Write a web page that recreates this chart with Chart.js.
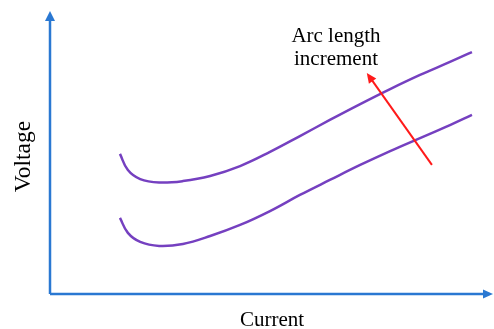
<!DOCTYPE html>
<html>
<head>
<meta charset="utf-8">
<script src="https://cdn.jsdelivr.net/npm/chart.js@4/dist/chart.umd.min.js"></script>
<style>
html,body{margin:0;padding:0;background:#fff;}
#wrap{width:494px;height:329px;position:relative;}
</style>
</head>
<body>
<div id="wrap"><canvas id="c" width="494" height="329"></canvas></div>
<script>
// Current (arbitrary units, 0-100 along the axis)
const currentValues = [15.9, 17.7, 20.5, 24.8, 30.2, 36.4, 43.2, 50.0, 56.8, 63.6, 70.5, 77.3, 84.1, 90.9, 95.9];
// Voltage for the longer arc (upper curve)
const upperVoltage = [49.5, 43.8, 40.6, 39.4, 39.9, 41.7, 45.2, 50.2, 55.8, 61.5, 67.1, 72.4, 77.4, 82.0, 85.5];
// Voltage for the shorter arc (lower curve)
const lowerVoltage = [26.9, 21.6, 18.4, 17.0, 17.7, 20.5, 24.4, 29.3, 35.0, 40.3, 45.6, 50.5, 55.1, 59.7, 63.3];
// Red arrow: tail -> head (current, voltage)
const arrowCurrent = [86.8, 72.0];
const arrowVoltage = [45.6, 78.1];
// Text
const arrowLabel = ['Arc length', 'increment'];
const xTitle = 'Current';
const yTitle = 'Voltage';

const toPoints = (xs, ys) => xs.map((x, i) => ({x: x, y: ys[i]}));

const AXIS_BLUE = '#2a78d2';
const PURPLE = '#7540c0';
const RED = '#ff1a1a';
const FONT = '"Liberation Serif", "Times New Roman", serif';

function arrowHead(ctx, x1, y1, x2, y2, len, half, color) {
  const a = Math.atan2(y2 - y1, x2 - x1);
  ctx.save();
  ctx.fillStyle = color;
  ctx.beginPath();
  ctx.moveTo(x2, y2);
  ctx.lineTo(x2 - len * Math.cos(a) + half * Math.sin(a), y2 - len * Math.sin(a) - half * Math.cos(a));
  ctx.lineTo(x2 - len * Math.cos(a) - half * Math.sin(a), y2 - len * Math.sin(a) + half * Math.cos(a));
  ctx.closePath();
  ctx.fill();
  ctx.restore();
}

const decor = {
  id: 'decor',
  beforeDatasetsDraw(chart) {
    const ctx = chart.ctx;
    const xs = chart.scales.x, ys = chart.scales.y;
    const x0 = xs.getPixelForValue(0), y0 = ys.getPixelForValue(0);
    const yTop = ys.getPixelForValue(100);
    const xEnd = chart.width - 1;
    ctx.save();
    ctx.strokeStyle = AXIS_BLUE;
    ctx.lineWidth = 2.5;
    ctx.beginPath();
    ctx.moveTo(x0, y0);
    ctx.lineTo(x0, yTop + 8);
    ctx.moveTo(x0, y0);
    ctx.lineTo(xEnd - 8, y0);
    ctx.stroke();
    ctx.restore();
    arrowHead(ctx, x0, y0, x0, yTop, 10, 5, AXIS_BLUE);
    arrowHead(ctx, x0, y0, xEnd, y0, 10, 4.5, AXIS_BLUE);
  },
  afterDatasetsDraw(chart) {
    const ctx = chart.ctx;
    const xs = chart.scales.x, ys = chart.scales.y;
    const tx = xs.getPixelForValue(arrowCurrent[0]), ty = ys.getPixelForValue(arrowVoltage[0]);
    const hx = xs.getPixelForValue(arrowCurrent[1]), hy = ys.getPixelForValue(arrowVoltage[1]);
    const a = Math.atan2(hy - ty, hx - tx);
    ctx.save();
    ctx.strokeStyle = RED;
    ctx.lineWidth = 2;
    ctx.beginPath();
    ctx.moveTo(tx, ty);
    ctx.lineTo(hx - 7 * Math.cos(a), hy - 7 * Math.sin(a));
    ctx.stroke();
    ctx.restore();
    arrowHead(ctx, tx, ty, hx, hy, 10, 4.5, RED);

    // texts
    ctx.save();
    ctx.fillStyle = '#000';
    ctx.textAlign = 'center';
    ctx.textBaseline = 'alphabetic';
    ctx.font = '21px ' + FONT;
    ctx.fillText(arrowLabel[0], 336, 41.5);
    ctx.fillText(arrowLabel[1], 336, 64.5);
    ctx.fillText(xTitle, 272, 326);
    ctx.translate(30, 156.5);
    ctx.rotate(-Math.PI / 2);
    ctx.font = '23.5px ' + FONT;
    ctx.fillText(yTitle, 0, 0);
    ctx.restore();
  }
};

new Chart(document.getElementById('c'), {
  type: 'line',
  data: {
    datasets: [
      {
        label: 'Longer arc',
        data: toPoints(currentValues, upperVoltage),
        borderColor: PURPLE,
        borderWidth: 2.5,
        pointRadius: 0,
        fill: false,
        tension: 0.4
      },
      {
        label: 'Shorter arc',
        data: toPoints(currentValues, lowerVoltage),
        borderColor: PURPLE,
        borderWidth: 2.5,
        pointRadius: 0,
        fill: false,
        tension: 0.4
      }
    ]
  },
  options: {
    responsive: false,
    animation: false,
    devicePixelRatio: 1,
    layout: { padding: { left: 50, top: 11, right: 4, bottom: 35 } },
    scales: {
      x: { type: 'linear', min: 0, max: 100, display: false },
      y: { type: 'linear', min: 0, max: 100, display: false }
    },
    plugins: {
      legend: { display: false },
      tooltip: { enabled: false },
      title: { display: false }
    }
  },
  plugins: [decor]
});
</script>
</body>
</html>
